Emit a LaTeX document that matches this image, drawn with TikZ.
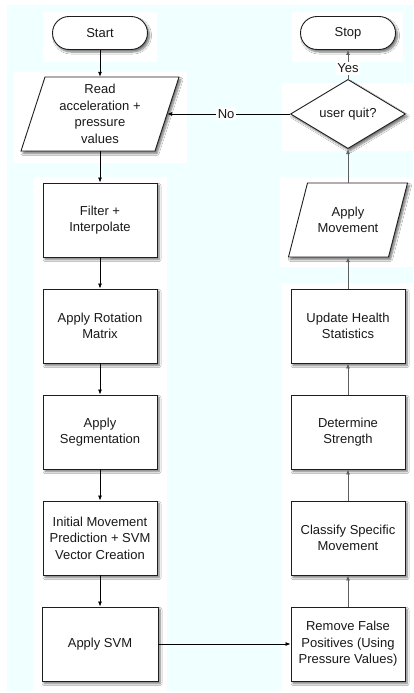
\documentclass[tikz,border=0pt]{standalone}
\usepackage{fontspec}
\setmainfont{Liberation Sans}
\usetikzlibrary{shapes.geometric,arrows.meta,shadows.blur,calc}
\definecolor{bgcyan}{RGB}{240,255,255}
\definecolor{edgegray}{RGB}{95,95,95}
\definecolor{boxline}{RGB}{30,30,30}
\tikzset{
  base/.style={font=\fontsize{13}{16.5}\selectfont, align=center, text=black!90},
  shadowed/.style={blur shadow={shadow xshift=2pt, shadow yshift=-2.5pt, shadow blur radius=2pt, shadow blur steps=6, shadow opacity=55}},
  procbox/.style={base, draw=boxline, line width=0.9pt, fill=white, minimum width=114pt, minimum height=74pt, inner sep=1pt, shadowed},
  terminal/.style={base, draw=boxline, line width=0.9pt, fill=white, rounded corners=16.5pt, minimum width=95pt, minimum height=33pt, inner sep=0pt, shadowed},
  decision/.style={base, diamond, draw=boxline, line width=0.9pt, fill=white, minimum width=115pt, minimum height=49pt, inner sep=0pt, shadowed},
  iotext/.style={base, minimum height=74pt, inner sep=0pt},
  ioshape/.style={draw=boxline, line width=0.9pt, fill=white, shadowed},
  flow/.style={line width=0.8pt, draw=black, -{Latex[length=5pt,width=4pt]}},
  flowgray/.style={flow, draw=edgegray},
  lbl/.style={base, fill=white, inner sep=1.5pt},
  artifact/.style={fill=white, draw=none},
}
\begin{document}
\begin{tikzpicture}[x=1pt,y=-1pt]
  \useasboundingbox (0,0) rectangle (413,693);
  % background
  \fill[bgcyan] (7,5) rectangle (413,691);
  \fill[artifact] (43,12) rectangle (157,62);
  \fill[artifact] (292,12) rectangle (403,62);
  \fill[artifact] (13,72) rectangle (187,163);
  \fill[artifact] (33,177) rectangle (167,691);
  \fill[artifact] (282,83) rectangle (413,151);
  \fill[artifact] (280,177) rectangle (413,267);
  \fill[artifact] (282,283) rectangle (413,691);

  % parallelogram shapes
  \coordinate (readc) at (100,114);
  \coordinate (movec) at (348,220);
  \draw[ioshape] ($(readc)+(-55,-37)$) -- ($(readc)+(79,-37)$) -- ($(readc)+(55,37)$) -- ($(readc)+(-79,37)$) -- cycle;
  \draw[ioshape] ($(movec)+(-40.5,-37)$) -- ($(movec)+(59.5,-37)$) -- ($(movec)+(40.5,37)$) -- ($(movec)+(-59.5,37)$) -- cycle;

  % nodes
  \node[terminal] (start) at (100,33) {Start};
  \node[terminal] (stop) at (348,33) {Stop};
  \node[iotext, minimum width=134pt] (read) at (readc) {Read\\acceleration +\\pressure\\values};
  \node[decision] (quit) at (348,114) {user quit?};
  \node[procbox] (filter) at (100,220) {Filter +\\Interpolate};
  \node[iotext, minimum width=100pt] (move) at (movec) {Apply\\Movement};
  \node[procbox] (rot) at (100,326) {Apply Rotation\\Matrix};
  \node[procbox] (health) at (348,326) {Update Health\\Statistics};
  \node[procbox] (seg) at (100,432) {Apply\\Segmentation};
  \node[procbox] (strength) at (348,432) {Determine\\Strength};
  \node[procbox] (init) at (100,538) {Initial Movement\\Prediction + SVM\\Vector Creation};
  \node[procbox] (classify) at (348,538) {Classify Specific\\Movement};
  \node[procbox, minimum width=116pt] (svm) at (100,644) {Apply SVM};
  \node[procbox] (remove) at (348,644) {Remove False\\Positives (Using\\Pressure Values)};

  % connectors
  \draw[flow] (start) -- (read);
  \draw[flow] (read) -- (filter);
  \draw[flow] (filter) -- (rot);
  \draw[flow] (rot) -- (seg);
  \draw[flow] (seg) -- (init);
  \draw[flow] (init) -- (svm);
  \draw[flow] (svm) -- (remove);
  \draw[flowgray] (remove) -- (classify);
  \draw[flowgray] (classify) -- (strength);
  \draw[flowgray] (strength) -- (health);
  \draw[flowgray] (health) -- (move);
  \draw[flowgray] (move) -- (quit);
  \draw[flowgray] (quit) -- node[lbl, pos=0.36] (yes) {Yes} (stop);
  \draw[flow] (quit.west) -- node[lbl, pos=0.52] (no) {No} (read.east);
\end{tikzpicture}
\end{document}
